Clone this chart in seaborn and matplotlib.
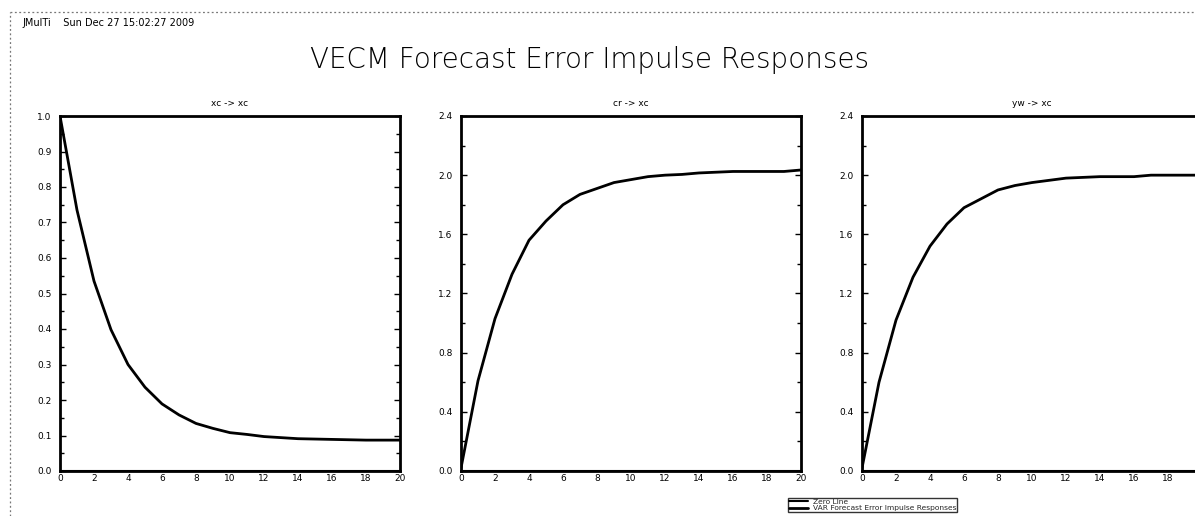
import numpy as np
import pandas as pd
import matplotlib
matplotlib.use("Agg")
import matplotlib.pyplot as plt
from matplotlib.lines import Line2D
from matplotlib.ticker import MultipleLocator
import seaborn as sns

# ---- data ----
horizon = list(range(21))
xc_xc = [1.0, 0.735, 0.535, 0.398, 0.300, 0.236, 0.189, 0.158, 0.134, 0.120,
         0.108, 0.103, 0.097, 0.094, 0.091, 0.090, 0.089, 0.088, 0.087, 0.087, 0.087]
cr_xc = [0.02, 0.61, 1.03, 1.33, 1.56, 1.69, 1.80, 1.87, 1.91, 1.95,
         1.97, 1.99, 2.00, 2.005, 2.015, 2.02, 2.025, 2.025, 2.025, 2.025, 2.035]
yw_xc = [0.02, 0.60, 1.02, 1.31, 1.52, 1.67, 1.78, 1.84, 1.90, 1.93,
         1.95, 1.965, 1.98, 1.985, 1.99, 1.99, 1.99, 2.0, 2.0, 2.0, 2.0]
panel_titles = ["xc -> xc", "cr -> xc", "yw -> xc"]
series = [xc_xc, cr_xc, yw_xc]
y_limits = [(0.0, 1.0), (0.0, 2.4), (0.0, 2.4)]
y_steps = [0.1, 0.4, 0.4]
x_ticks = list(range(0, 21, 2))
main_title = "VECM Forecast Error Impulse Responses"
header = "JMulTi    Sun Dec 27 15:02:27 2009"
legend_labels = ["Zero Line", "VAR Forecast Error Impulse Responses"]

sns.set_theme(style="white")
plt.rcParams['font.family'] = ['DejaVu Sans']

W, H = 1195, 516
fig = plt.figure(figsize=(W / 100, H / 100), dpi=100)
fig.patch.set_facecolor("white")

lefts_px = [60, 461, 862]
pw, top_px, bot_px = 340, 116, 471

for i in range(3):
    ax = fig.add_axes([lefts_px[i] / W, 1 - bot_px / H, pw / W, (bot_px - top_px) / H])
    df = pd.DataFrame({"h": horizon, "irf": series[i], "zero": [0.0] * len(horizon)})
    sns.lineplot(data=df, x="h", y="zero", ax=ax, color="black", linewidth=1.5)
    sns.lineplot(data=df, x="h", y="irf", ax=ax, color="black", linewidth=2)
    ax.set_xlim(0, 20)
    ax.set_ylim(*y_limits[i])
    ax.set_xticks(x_ticks)
    ax.yaxis.set_major_locator(MultipleLocator(y_steps[i]))
    ax.yaxis.set_minor_locator(MultipleLocator(y_steps[i] / 2))
    ax.yaxis.set_major_formatter(matplotlib.ticker.FormatStrFormatter("%.1f"))
    ax.set_xlabel("")
    ax.set_ylabel("")
    ax.tick_params(axis="y", which="both", direction="in", left=True, right=True,
                   labelsize=6.5, pad=6, colors="black", width=1)
    ax.tick_params(axis="y", which="major", length=4)
    ax.tick_params(axis="y", which="minor", length=3)
    ax.tick_params(axis="x", length=0, labelsize=6.5, pad=2.5, colors="black")
    for s in ax.spines.values():
        s.set_color("black")
        s.set_linewidth(2)
    ax.set_title(panel_titles[i], fontsize=6.5, pad=7, color="black")

# dotted page frame
fig.add_artist(Line2D([10 / W, 10 / W], [0, 1 - 12 / H], transform=fig.transFigure,
                      color="#777777", linestyle=(0, (1.5, 2)), linewidth=0.9))
fig.add_artist(Line2D([10 / W, 1], [1 - 12 / H, 1 - 12 / H], transform=fig.transFigure,
                      color="#777777", linestyle=(0, (1.5, 2)), linewidth=0.9))

fig.text(22 / W, 1 - 23 / H, header, fontsize=7, va="center", ha="left", color="black")
fig.text(590 / W, 1 - 60 / H, main_title, fontsize=20, va="center", ha="center",
         color="black", fontweight="light")

handles = [Line2D([], [], color="black", linewidth=1.5),
           Line2D([], [], color="black", linewidth=2)]
leg = fig.legend(handles, legend_labels, loc="upper left",
                 bbox_to_anchor=(788 / W, 1 - 498 / H), fontsize=5.4, frameon=True,
                 handlelength=2.6, borderpad=0.1, labelspacing=0.0, handletextpad=0.6,
                 fancybox=False, borderaxespad=0)
leg.get_frame().set_edgecolor("black")
leg.get_frame().set_linewidth(1)

fig.savefig("out.png", dpi=100)
